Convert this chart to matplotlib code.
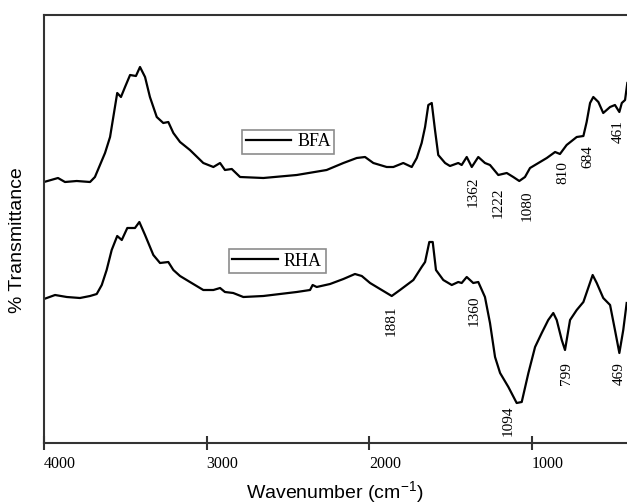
import matplotlib
matplotlib.use("Agg")
import matplotlib.pyplot as plt

# wavenumber (cm-1) / transmittance (arbitrary units)
bfa_wn = [4000, 3914, 3871, 3799, 3717, 3687, 3656, 3625, 3594, 3574, 3550, 3527,
          3502, 3471, 3435, 3410, 3379, 3349, 3307, 3267, 3236, 3205, 3164, 3103,
          3021, 2959, 2918, 2888, 2846, 2795, 2652, 2447, 2263, 2160, 2078, 2027,
          1976, 1894, 1853, 1792, 1740, 1709, 1679, 1658, 1638, 1617, 1597, 1577,
          1535, 1505, 1454, 1433, 1402, 1371, 1331, 1290, 1259, 1208, 1156, 1116,
          1079, 1044, 1013, 910, 859, 829, 788, 726, 685, 665, 644, 624,
          593, 563, 521, 491, 464, 449, 429, 415]
bfa_t = [261, 265, 261, 262, 261, 266, 278, 290, 306, 326, 350, 346,
         356, 368, 367, 376, 366, 346, 326, 320, 321, 310, 301, 293,
         280, 276, 280, 273, 274, 266, 265, 268, 273, 280, 285, 286,
         280, 276, 276, 280, 276, 285, 300, 316, 338, 340, 313, 288,
         280, 277, 280, 278, 286, 276, 286, 280, 278, 268, 270, 266,
         262, 266, 275, 285, 291, 289, 298, 306, 307, 321, 340, 346,
         341, 330, 336, 338, 331, 340, 343, 360]

rha_wn = [4000, 3932, 3860, 3779, 3717, 3676, 3645, 3615, 3584, 3550, 3522, 3488,
          3441, 3414, 3379, 3328, 3287, 3236, 3205, 3164, 3103, 3021, 2959, 2918,
          2888, 2837, 2775, 2652, 2447, 2365, 2349, 2324, 2242, 2160, 2089, 2047,
          1996, 1945, 1863, 1812, 1730, 1679, 1658, 1632, 1611, 1591, 1546, 1494,
          1454, 1433, 1402, 1362, 1331, 1290, 1259, 1228, 1197, 1146, 1095, 1064,
          1023, 982, 941, 901, 870, 849, 818, 798, 767, 726, 685, 628,
          603, 563, 521, 491, 464, 440, 419]
rha_t = [144, 148, 146, 145, 147, 149, 158, 173, 193, 207, 203, 215,
         215, 221, 208, 188, 180, 181, 173, 167, 161, 153, 153, 155,
         151, 150, 146, 147, 151, 153, 158, 156, 159, 164, 169, 167,
         160, 155, 147, 153, 163, 176, 181, 201, 201, 173, 163, 158,
         161, 160, 166, 160, 161, 146, 120, 86, 70, 56, 40, 41,
         70, 96, 110, 123, 130, 123, 103, 93, 123, 133, 141, 168,
         160, 145, 138, 113, 90, 113, 140]

bfa_labels = ["1362", "1222", "1080", "810", "684", "461"]
rha_labels = ["1881", "1360", "1094", "799", "469"]
x_ticks = [4000, 3000, 2000, 1000]

serif = "Liberation Serif"
sans = "Liberation Sans"
plt.rcParams["mathtext.default"] = "regular"

fig = plt.figure(figsize=(6.27, 5.04), dpi=100)
ax = fig.add_axes([44 / 627, 61 / 504, 583 / 627, 428 / 504])

line_bfa, = ax.plot(bfa_wn, bfa_t, color="black", lw=1.6)
line_rha, = ax.plot(rha_wn, rha_t, color="black", lw=1.6)

ax.set_xlim(4000, 417)
ax.set_ylim(0, 428)

# peak labels, rotated like in the original
bfa_pos = [(1363, 251), (1210, 240), (1031, 237), (810, 270), (657, 286), (472, 311)]
rha_pos = [(1867, 122), (1357, 132), (1148, 22), (786, 69), (466, 69)]
for txt, (x, y) in zip(bfa_labels + rha_labels, bfa_pos + rha_pos):
    ax.text(x, y, txt, rotation=90, ha="center", va="center",
            family=serif, fontsize=11)

# one boxed legend per curve
leg_kw = dict(loc="center", frameon=True, fancybox=False, handlelength=2.5,
              handletextpad=0.35, borderpad=0.2, borderaxespad=0,
              prop={"family": serif, "size": 13})
leg1 = ax.legend([line_bfa], ["BFA"], bbox_to_anchor=(0.419, 0.704), **leg_kw)
ax.add_artist(leg1)
leg2 = ax.legend([line_rha], ["RHA"], bbox_to_anchor=(0.400, 0.4245), **leg_kw)
for leg in (leg1, leg2):
    leg.get_frame().set_edgecolor("#707070")
    leg.get_frame().set_linewidth(1.2)

ax.set_xticks(x_ticks)
ax.set_xticklabels([str(t) for t in x_ticks], family=serif, fontsize=11.5)
for lab in ax.get_xticklabels():
    lab.set_horizontalalignment("left")
ax.tick_params(axis="x", direction="inout", length=10, width=1.5,
               color="#333333", pad=4)
ax.set_yticks([])

for side in ("left", "top", "bottom"):
    ax.spines[side].set_linewidth(1.5)
    ax.spines[side].set_color("#333333")
ax.spines["right"].set_visible(False)

fig.text(335 / 627, 1 - 492 / 504, "Wavenumber (cm$^{-1}$)", ha="center",
         va="center", family=sans, fontsize=14)
fig.text(18 / 627, 1 - 240 / 504, "% Transmittance", rotation=90, ha="center",
         va="center", family=sans, fontsize=14)

fig.savefig("out.png", dpi=100)
